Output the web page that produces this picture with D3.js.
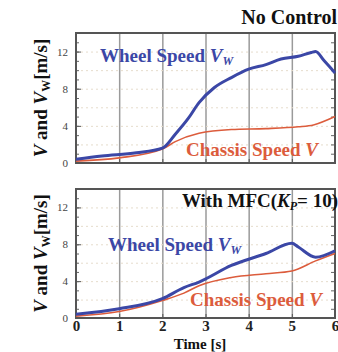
<!DOCTYPE html>
<html>
<head>
<meta charset="utf-8">
<script src="https://cdnjs.cloudflare.com/ajax/libs/d3/7.8.5/d3.min.js"></script>
<style>
  body { margin: 0; background: #fff; }
  svg { display: block; }
  text { font-family: "Liberation Serif", "DejaVu Serif", serif; font-weight: bold; }
</style>
</head>
<body>
<svg id="chart"></svg>
<script>
// time axis (s)
const xTicks = [0, 1, 2, 3, 4, 5, 6];
const yTicks = [0, 4, 8, 12];

// No Control
const t1 = [0, 0.6, 1.4, 2.0, 2.3, 2.6, 2.85, 3.2, 3.6, 4.0, 4.4, 4.75, 5.15, 5.45, 5.55, 5.75, 6.0];
const wheel1 = [0.4, 0.75, 1.1, 1.6, 3.1, 4.8, 6.5, 8.1, 9.2, 10.1, 10.6, 11.2, 11.5, 11.9, 12.0, 11.0, 9.7];
const tc1 = [0, 1, 2, 2.3, 2.85, 3.6, 4.4, 5.15, 5.5, 6.0];
const chassis1 = [0.2, 0.55, 1.5, 2.3, 3.2, 3.6, 3.7, 3.9, 4.1, 5.0];

// With MFC (Kp = 10)
const t2 = [0, 1, 2, 2.5, 2.85, 3.6, 4.4, 5.0, 5.15, 5.55, 6.0];
const wheel2 = [0.4, 1.0, 2.1, 3.3, 3.9, 5.7, 7.0, 8.1, 7.7, 6.6, 7.3];
const tc2 = [0, 1, 2, 2.5, 2.85, 3.6, 4.4, 5.0, 5.55, 6.0];
const chassis2 = [0.2, 0.7, 1.9, 2.7, 3.5, 4.4, 4.8, 5.1, 6.2, 7.0];

const W = 338, H = 352;
const svg = d3.select("#chart").attr("width", W).attr("height", H);

const x = d3.scaleLinear().domain([0, 6]).range([76, 335]);

const blue = "#3b47a6", red = "#dc5c3c";

function panel(top, bottom, tw, vw, tc, vc, showX) {
  const y = d3.scaleLinear().domain([0, 14]).range([bottom, top]);
  const g = svg.append("g");

  // vertical grid
  g.append("g")
    .attr("transform", "translate(0," + bottom + ")")
    .call(d3.axisBottom(x).tickValues([1, 2, 3, 4, 5]).tickSize(-(bottom - top)).tickFormat(""))
    .call(s => s.select(".domain").remove())
    .selectAll("line").attr("stroke", "#9a9a9a").attr("stroke-width", 1.5);

  // horizontal faint grid
  g.append("g")
    .attr("transform", "translate(76,0)")
    .call(d3.axisLeft(y).tickValues([2, 4, 6, 8, 10, 12]).tickSize(-(x(6) - x(0))).tickFormat(""))
    .call(s => s.select(".domain").remove())
    .selectAll("line").attr("stroke", "#e6dccc").attr("stroke-dasharray", "2,3");

  // left axis with inward ticks
  const yl = g.append("g")
    .attr("transform", "translate(76,0)")
    .call(d3.axisLeft(y).tickValues(yTicks).tickSize(-5).tickPadding(8));
  yl.select(".domain").remove();
  yl.selectAll("line").attr("stroke", "#555");
  yl.selectAll("text").attr("font-size", 11).attr("fill", "#444").style("font-weight", "normal");

  // minor ticks left & right
  g.append("g")
    .attr("transform", "translate(76,0)")
    .call(d3.axisLeft(y).tickValues(d3.range(1, 14)).tickSize(-3).tickFormat(""))
    .call(s => s.select(".domain").remove())
    .selectAll("line").attr("stroke", "#666");
  g.append("g")
    .attr("transform", "translate(" + x(6) + ",0)")
    .call(d3.axisRight(y).tickValues(d3.range(1, 14)).tickSize(-4).tickFormat(""))
    .call(s => s.select(".domain").remove())
    .selectAll("line").attr("stroke", "#666");

  // bottom axis
  const xa = g.append("g")
    .attr("transform", "translate(0," + bottom + ")")
    .call(d3.axisBottom(x).tickValues(xTicks).tickSize(-4).tickPadding(2).tickFormat(showX ? d3.format("d") : ""));
  xa.select(".domain").remove();
  xa.selectAll("line").attr("stroke", "#555");
  xa.selectAll("text").attr("font-size", 15).attr("fill", "#222");

  // frame
  g.append("rect")
    .attr("x", x(0)).attr("y", top)
    .attr("width", x(6) - x(0)).attr("height", bottom - top)
    .attr("fill", "none").attr("stroke", "#555").attr("stroke-width", 2);

  const line = d3.line().curve(d3.curveMonotoneX);
  g.append("path")
    .attr("d", line(tc.map((t, i) => [x(t), y(vc[i])])))
    .attr("fill", "none").attr("stroke", red).attr("stroke-width", 1.6);
  g.append("path")
    .attr("d", line(tw.map((t, i) => [x(t), y(vw[i])])))
    .attr("fill", "none").attr("stroke", blue).attr("stroke-width", 3);

  // y label
  const yl2 = g.append("text")
    .attr("transform", "translate(47," + ((top + bottom) / 2) + ") rotate(-90)")
    .attr("text-anchor", "middle").attr("font-size", 19).attr("fill", "#111");
  yl2.append("tspan").attr("font-style", "italic").text("V");
  yl2.append("tspan").text(" and ");
  yl2.append("tspan").attr("font-style", "italic").text("V");
  yl2.append("tspan").attr("font-size", 12).attr("dy", 3).text("W");
  yl2.append("tspan").attr("dy", -3).text("[m/s]");
  return { g, y };
}

function wheelLabel(g, lx, ly) {
  const t = g.append("text").attr("x", lx).attr("y", ly).attr("font-size", 19).attr("fill", blue);
  t.append("tspan").text("Wheel Speed ");
  t.append("tspan").attr("font-style", "italic").text("V");
  t.append("tspan").attr("font-style", "italic").attr("font-size", 12).attr("dy", 3).text("W");
}
function chassisLabel(g, lx, ly) {
  const t = g.append("text").attr("x", lx).attr("y", ly).attr("font-size", 19).attr("fill", red);
  t.append("tspan").text("Chassis Speed ");
  t.append("tspan").attr("font-style", "italic").text("V");
}

const p1 = panel(33, 163, t1, wheel1, tc1, chassis1, false);
wheelLabel(p1.g, 100, 62);
chassisLabel(p1.g, 186, 156);
p1.g.append("text").attr("x", 337).attr("y", 24).attr("text-anchor", "end")
  .attr("font-size", 20).attr("fill", "#111").text("No Control");

const p2 = panel(189, 318, t2, wheel2, tc2, chassis2, true);
wheelLabel(p2.g, 108, 251);
chassisLabel(p2.g, 190, 306);
const tt = p2.g.append("text").attr("x", 338).attr("y", 207).attr("text-anchor", "end")
  .attr("font-size", 19).attr("fill", "#111");
tt.append("tspan").text("With MFC(");
tt.append("tspan").attr("font-style", "italic").text("K");
tt.append("tspan").attr("font-style", "italic").attr("font-size", 12).attr("dy", 3).text("P");
tt.append("tspan").attr("dy", -3).text("= 10)");

svg.append("text").attr("x", 200).attr("y", 349).attr("text-anchor", "middle")
  .attr("font-size", 15).attr("fill", "#111").text("Time [s]");
</script>
</body>
</html>
